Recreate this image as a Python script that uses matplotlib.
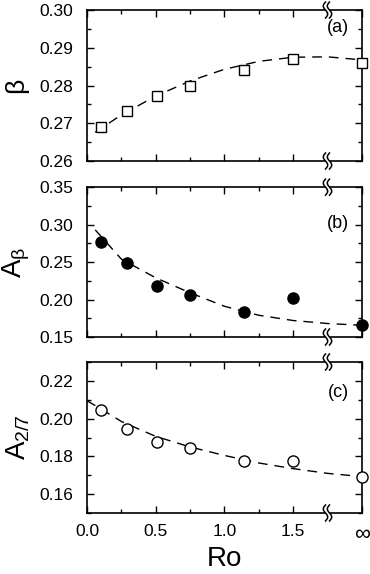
import numpy as np
import matplotlib
matplotlib.use("Agg")
import matplotlib.pyplot as plt
from matplotlib.lines import Line2D
from matplotlib.patches import Polygon
from matplotlib.transforms import IdentityTransform
from matplotlib.ticker import MultipleLocator, FormatStrFormatter

plt.rcParams['font.family'] = ['Liberation Sans', 'DejaVu Sans']
plt.rcParams['mathtext.fontset'] = 'custom'
plt.rcParams['mathtext.rm'] = 'Liberation Sans'
plt.rcParams['mathtext.it'] = 'Liberation Sans'
plt.rcParams['mathtext.default'] = 'rm'

# Data (Ro = 2.0 stands for infinity)
ro = [0.1, 0.29, 0.51, 0.75, 1.14, 1.5, 2.0]
beta = [0.2691, 0.2732, 0.2772, 0.2799, 0.2840, 0.2871, 0.2861]
a_beta = [0.2772, 0.2482, 0.2183, 0.2054, 0.1835, 0.2027, 0.1656]
a_27 = [0.2048, 0.1946, 0.1876, 0.1847, 0.1777, 0.1777, 0.1691]

# dashed fit curves
fit_x_a = [0.06, 0.25, 0.5, 0.75, 1.0, 1.25, 1.5, 1.75, 2.0]
fit_a = [0.2676, 0.2722, 0.2772, 0.2812, 0.2843, 0.2864, 0.2875, 0.2876, 0.2868]
fit_x_b = [0.06, 0.25, 0.5, 0.75, 1.0, 1.25, 1.5, 1.75, 2.0]
fit_b = [0.293, 0.254, 0.229, 0.209, 0.191, 0.179, 0.172, 0.168, 0.1656]
fit_x_c = [0.0, 0.1, 0.25, 0.5, 0.75, 1.0, 1.25, 1.5, 1.75, 2.0]
fit_c = [0.2095, 0.2052, 0.1985, 0.1906, 0.1850, 0.1805, 0.1765, 0.1735, 0.1710, 0.1693]

xticks = [0.0, 0.5, 1.0, 1.5, 2.0]
xticklabels = ['0.0', '0.5', '1.0', '1.5', '\u221e']

fig = plt.figure(figsize=(3.7, 5.74), dpi=100)
left, width = 0.235, 0.743
ax_a = fig.add_axes([left, 0.7195, width, 0.263])
ax_b = fig.add_axes([left, 0.4129, width, 0.2611])
ax_c = fig.add_axes([left, 0.1063, width, 0.263])

dash = (0, (7, 5))

ax_a.plot(fit_x_a, fit_a, color='black', lw=1.0, linestyle=dash, zorder=2)
ax_a.plot(ro, beta, 's', ms=7.5, mfc='white', mec='black', mew=1.0, clip_on=False, zorder=3)
ax_a.set_ylim(0.26, 0.30)
ax_a.yaxis.set_major_locator(MultipleLocator(0.01))
ax_a.yaxis.set_minor_locator(MultipleLocator(0.005))
ax_a.set_ylabel('\u03b2', fontsize=19)
ax_a.text(0.955, 0.885, '(a)', transform=ax_a.transAxes, ha='right', va='center', fontsize=13)

ax_b.plot(fit_x_b, fit_b, color='black', lw=1.0, linestyle=dash, zorder=2)
ax_b.plot(ro, a_beta, 'o', ms=8, mfc='black', mec='black', clip_on=False, zorder=3)
ax_b.set_ylim(0.15, 0.35)
ax_b.yaxis.set_major_locator(MultipleLocator(0.05))
ax_b.yaxis.set_minor_locator(MultipleLocator(0.025))
ax_b.set_ylabel(r'A$_\beta$', fontsize=20)
ax_b.text(0.955, 0.76, '(b)', transform=ax_b.transAxes, ha='right', va='center', fontsize=13)

ax_c.plot(fit_x_c, fit_c, color='black', lw=1.0, linestyle=dash, zorder=2)
ax_c.plot(ro, a_27, 'o', ms=8, mfc='white', mec='black', mew=1.0, clip_on=False, zorder=3)
ax_c.set_ylim(0.15, 0.23)
ax_c.yaxis.set_major_locator(MultipleLocator(0.02))
ax_c.yaxis.set_minor_locator(MultipleLocator(0.01))
ax_c.set_ylabel(r'A$_{2/7}$', fontsize=20)
ax_c.text(0.955, 0.80, '(c)', transform=ax_c.transAxes, ha='right', va='center', fontsize=13)
ax_c.set_xlabel('Ro', fontsize=20, labelpad=1)

for ax in (ax_a, ax_b, ax_c):
    ax.set_xlim(0, 2.0)
    ax.set_xticks(xticks)
    ax.xaxis.set_minor_locator(MultipleLocator(0.25))
    ax.yaxis.set_major_formatter(FormatStrFormatter('%.2f'))
    ax.tick_params(which='both', direction='in', top=True, right=True, labelsize=12.5, width=1.0)
    ax.tick_params(which='major', length=5)
    ax.tick_params(which='minor', length=3)
    ax.tick_params(axis='y', pad=10)
    ax.tick_params(axis='x', pad=8)
    for s in ax.spines.values():
        s.set_linewidth(1.2)
    ax.yaxis.set_label_coords(-0.20, 0.5)
    if ax is ax_c:
        ax.set_xticklabels(xticklabels)
    else:
        ax.set_xticklabels([])
ax_a.yaxis.set_label_coords(-0.215, 0.5)
ax_c.get_xticklabels()[-1].set_fontsize(16)

# axis break marks at Ro = 1.75
fig.canvas.draw()
t = np.linspace(-1, 1, 30)
for ax in (ax_a, ax_b, ax_c):
    for yf in (0, 1):
        px, py = ax.transAxes.transform((0.875, yf))
        wx = 2.2 * np.sin(np.pi * t)
        wy = -8.0 * t
        x1 = px - 2.0 + wx
        x2 = px + 2.0 + wx
        poly = np.column_stack([np.concatenate([x1, x2[::-1]]),
                                np.concatenate([py + wy, (py + wy)[::-1]])])
        fig.add_artist(Polygon(poly, closed=True, facecolor='white', edgecolor='none',
                               transform=IdentityTransform(), zorder=5))
        fig.add_artist(Line2D(x1, py + wy, color='black', lw=1.1, transform=IdentityTransform(), zorder=6))
        fig.add_artist(Line2D(x2, py + wy, color='black', lw=1.1, transform=IdentityTransform(), zorder=6))

fig.savefig('out.png', dpi=100)
